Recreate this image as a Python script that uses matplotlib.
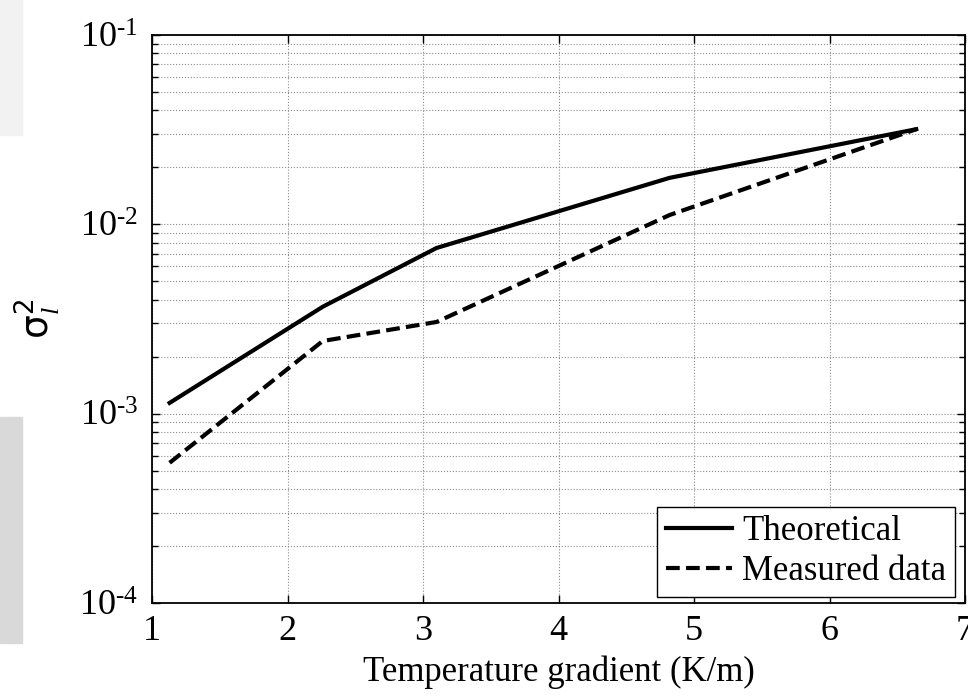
import matplotlib
matplotlib.use("Agg")
import matplotlib.pyplot as plt
from matplotlib.patches import Rectangle
from matplotlib.ticker import LogLocator, NullFormatter, FixedLocator

plt.rcParams['font.family'] = ['Liberation Serif', 'DejaVu Serif']
plt.rcParams['mathtext.fontset'] = 'custom'
plt.rcParams['mathtext.rm'] = 'Liberation Serif'
plt.rcParams['mathtext.it'] = 'Liberation Serif:italic'
plt.rcParams['mathtext.default'] = 'regular'

# data
x_theory = [1.13, 2.26, 3.10, 4.82, 6.64]
y_theory = [1.14e-3, 3.67e-3, 7.5e-3, 1.76e-2, 3.18e-2]
x_meas = [1.13, 2.26, 3.10, 4.82, 6.64]
y_meas = [5.5e-4, 2.42e-3, 3.05e-3, 1.12e-2, 3.18e-2]
x_ticks = [1, 2, 3, 4, 5, 6, 7]
y_ticks = [1e-4, 1e-3, 1e-2, 1e-1]
y_tick_labels = [r'$10^{\text{-4}}$', r'$10^{\text{-3}}$', r'$10^{\text{-2}}$', r'$10^{\text{-1}}$']
series_labels = ['Theoretical', 'Measured data']

fig = plt.figure(figsize=(9.68, 6.96), dpi=100)
fig.patches.append(Rectangle((0, 1 - 135 / 696), 22 / 968, 135 / 696,
                             transform=fig.transFigure, color='#f2f2f2', zorder=0))
fig.patches.append(Rectangle((0, 1 - 643 / 696), 22 / 968, 226 / 696,
                             transform=fig.transFigure, color='#d9d9d9', zorder=0))

ax = fig.add_axes([152 / 968, 1 - 603 / 696, (965 - 152) / 968, (603 - 35) / 696])
ax.plot(x_theory, y_theory, color='black', lw=3.0, linestyle='-', label=series_labels[0])
ax.plot(x_meas, y_meas, color='black', lw=3.0, linestyle=(0, (3.3, 1.5)), label=series_labels[1])

ax.set_yscale('log')
ax.set_xlim(1, 7)
ax.set_ylim(1e-4, 1e-1)
ax.xaxis.set_major_locator(FixedLocator(x_ticks))
ax.set_xticklabels([str(t) for t in x_ticks])
ax.yaxis.set_major_locator(FixedLocator(y_ticks))
ax.set_yticklabels(y_tick_labels)
ax.yaxis.set_minor_locator(LogLocator(base=10, subs=range(2, 10)))
ax.yaxis.set_minor_formatter(NullFormatter())

ax.grid(True, which='major', axis='both', color='#8c8c8c', linestyle=':', linewidth=0.8)
ax.grid(True, which='minor', axis='y', color='#8c8c8c', linestyle=':', linewidth=0.8)

ax.tick_params(which='both', direction='in', top=True, right=True, width=1.0,
               labelsize=26, colors='black')
ax.tick_params(axis='x', pad=9)
ax.tick_params(axis='y', pad=10)
ax.tick_params(which='major', length=6)
ax.tick_params(which='minor', length=4)
for s in ax.spines.values():
    s.set_linewidth(1.3)

ax.set_xlabel('Temperature gradient (K/m)', fontsize=25, labelpad=5)
ax.set_ylabel(r'$\sigma_{\mathit{l}}^{2}$', fontsize=27, family='DejaVu Sans', labelpad=12)

leg = ax.legend(loc='lower right', fontsize=25, frameon=True, fancybox=False,
                edgecolor='black', framealpha=1, handlelength=1.9, handletextpad=0.3,
                borderpad=0.25, labelspacing=0.2, borderaxespad=0.0,
                bbox_to_anchor=(955 / 968, 1 - 597 / 696), bbox_transform=fig.transFigure)
leg.get_frame().set_linewidth(1.0)

fig.savefig('out.png', dpi=100)
